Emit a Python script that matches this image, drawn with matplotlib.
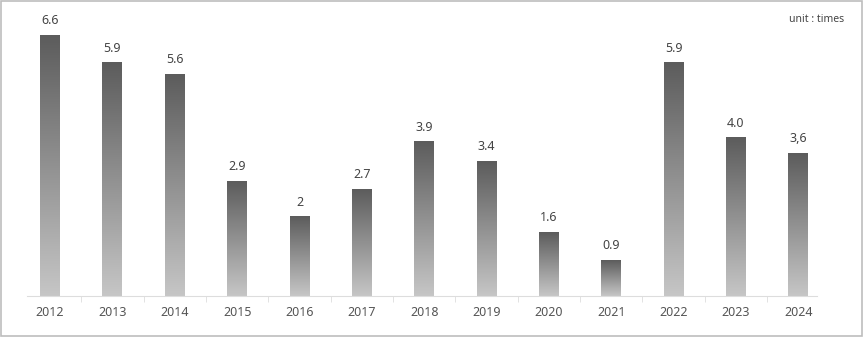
import numpy as np
import matplotlib
matplotlib.use("Agg")
import matplotlib.pyplot as plt
from matplotlib.colors import LinearSegmentedColormap
from matplotlib.patches import Rectangle

years = ["2012", "2013", "2014", "2015", "2016", "2017", "2018",
         "2019", "2020", "2021", "2022", "2023", "2024"]
values = [6.6, 5.9, 5.6, 2.9, 2.0, 2.7, 3.9, 3.4, 1.6, 0.9, 5.9, 4.0, 3.6]
value_labels = ["6.6", "5.9", "5.6", "2.9", "2", "2.7", "3.9",
                "3.4", "1.6", "0.9", "5.9", "4.0", "3,6"]

plt.rcParams['font.family'] = ['Noto Sans', 'DejaVu Sans']

fig = plt.figure(figsize=(8.65, 3.54), dpi=100)
# outer frame
fig.patches.append(Rectangle((1 / 865, 18 / 354), 861 / 865, 335 / 354,
                             transform=fig.transFigure, fill=False,
                             edgecolor="#bdbdbd", linewidth=1.2))

ax = fig.add_axes([27 / 865, 58 / 354, 790 / 865, 286 / 354])
x = np.arange(len(years))
bw = 0.32
cmap = LinearSegmentedColormap.from_list("g", ["#c6c6c6", "#5c5c5c"])
grad = np.linspace(0, 1, 256).reshape(-1, 1)

bars = ax.bar(x, values, width=bw, color="none", edgecolor="none")
for b in bars:
    x0, h = b.get_x(), b.get_height()
    ax.imshow(grad, cmap=cmap, aspect="auto", origin="lower",
              extent=[x0, x0 + bw, 0, h], zorder=2, interpolation="bilinear")

for xi, v, lab in zip(x, values, value_labels):
    ax.annotate(lab, (xi, v), xytext=(0, 6), textcoords="offset points",
                ha="center", va="bottom", fontsize=9, color="#444444")

ax.set_xlim(-0.37, 12.3)
ax.set_ylim(0, 7.24)
ax.set_yticks([])
for s in ["top", "right", "left"]:
    ax.spines[s].set_visible(False)
ax.spines["bottom"].set_color("#dddddd")
ax.set_xticks(x)
ax.set_xticklabels(years, fontsize=9, color="#555555")
ax.tick_params(axis="x", length=0, pad=7)
ax.set_xticks(x[:-1] + 0.5, minor=True)
ax.tick_params(axis="x", which="minor", length=4, color="#dddddd")

fig.text(844 / 865, 1 - 20 / 354, "unit : times", ha="right", va="center",
         fontsize=7.5, color="#444444")

fig.savefig("out.png", dpi=100)
